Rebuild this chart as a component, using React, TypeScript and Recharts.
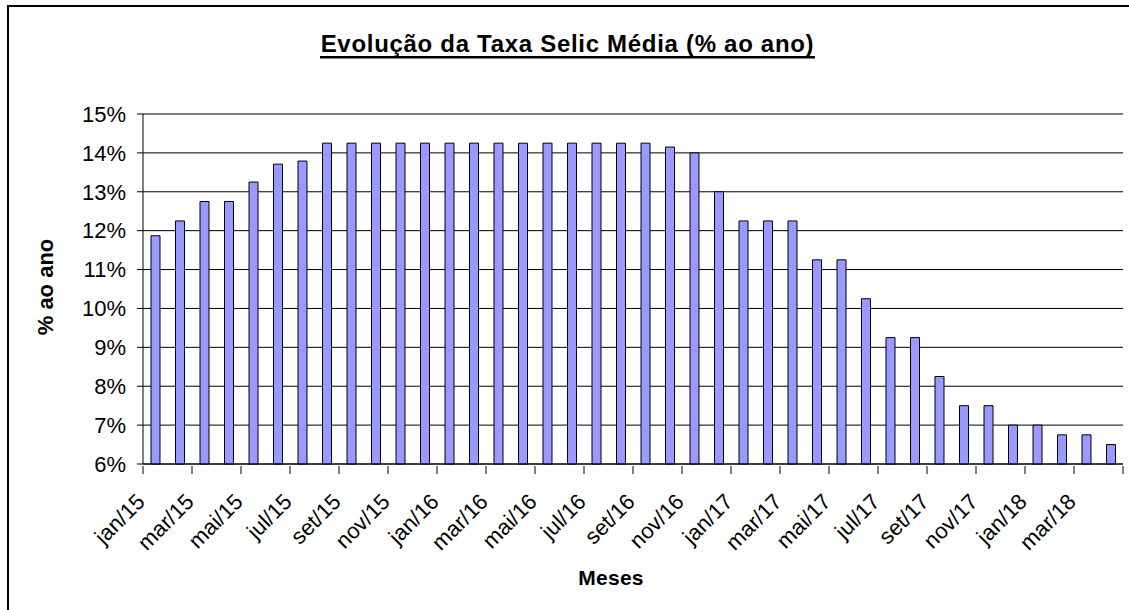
import { BarChart, Bar, XAxis, YAxis, CartesianGrid, ReferenceLine } from "recharts";

const months = [
  "jan/15", "fev/15", "mar/15", "abr/15", "mai/15", "jun/15", "jul/15", "ago/15", "set/15", "out/15", "nov/15", "dez/15",
  "jan/16", "fev/16", "mar/16", "abr/16", "mai/16", "jun/16", "jul/16", "ago/16", "set/16", "out/16", "nov/16", "dez/16",
  "jan/17", "fev/17", "mar/17", "abr/17", "mai/17", "jun/17", "jul/17", "ago/17", "set/17", "out/17", "nov/17", "dez/17",
  "jan/18", "fev/18", "mar/18", "abr/18",
];

const selic = [
  11.87, 12.25, 12.75, 12.75, 13.25, 13.71, 13.79, 14.25, 14.25, 14.25, 14.25, 14.25,
  14.25, 14.25, 14.25, 14.25, 14.25, 14.25, 14.25, 14.25, 14.25, 14.15, 14.0, 13.0,
  12.25, 12.25, 12.25, 11.25, 11.25, 10.25, 9.25, 9.25, 8.25, 7.5, 7.5, 7.0,
  7.0, 6.75, 6.75, 6.5,
];

const yTicks = [6, 7, 8, 9, 10, 11, 12, 13, 14, 15];

const data = months.map((m, i) => ({ month: m, selic: selic[i] }));

const W = 1129;
const H = 610;
const FONT = "'Liberation Sans', Arial, sans-serif";
const PLOT_LEFT = 143;
const PLOT_RIGHT = 6;
const BAND = (W - PLOT_LEFT - PLOT_RIGHT) / months.length;

const MonthTick = (props: any) => {
  const { x, y, payload } = props;
  const idx = payload.index ?? props.index;
  const left = x - BAND / 2;
  return (
    <g>
      <line x1={left} y1={y} x2={left} y2={y + 8} stroke="#000" />
      {idx === months.length - 2 && (
        <line x1={x + BAND * 1.5} y1={y} x2={x + BAND * 1.5} y2={y + 8} stroke="#000" />
      )}
      <text
        x={x - 9}
        y={y + 37}
        transform={`rotate(-45, ${x - 9}, ${y + 37})`}
        textAnchor="end"
        fontFamily={FONT}
        fontSize={22}
        fill="#000"
      >
        {payload.value}
      </text>
    </g>
  );
};

const App = () => {
  return (
    <div style={{ position: "absolute", left: 0, top: 0, width: W, height: H, overflow: "hidden", background: "#fff" }}>
      <BarChart width={W} height={H} data={data} margin={{ top: 114, right: PLOT_RIGHT, bottom: 66, left: 0 }}>
        <CartesianGrid vertical={false} stroke="#000" strokeWidth={1} />
        <XAxis
          dataKey="month"
          interval={1}
          height={80}
          tickSize={0}
          tickLine={false}
          axisLine={{ stroke: "#000" }}
          tick={<MonthTick />}
        />
        <YAxis
          domain={[6, 15]}
          ticks={yTicks}
          width={PLOT_LEFT}
          tickSize={6}
          tickMargin={11}
          axisLine={{ stroke: "#000" }}
          tickLine={{ stroke: "#000" }}
          tickFormatter={(v) => `${v}%`}
          tick={{ fontFamily: FONT, fontSize: 22, fill: "#000" }}
        />
        <YAxis
          yAxisId="r"
          orientation="right"
          domain={[6, 15]}
          width={0}
          tick={false}
          tickLine={false}
          axisLine={{ stroke: "#808080", strokeWidth: 2 }}
        />
        <ReferenceLine y={15} stroke="#808080" strokeWidth={2} />
        <Bar dataKey="selic" fill="#9999FF" stroke="#000" strokeWidth={1} barSize={9} isAnimationActive={false} />
      </BarChart>
      <svg width={W} height={H} style={{ position: "absolute", left: 0, top: 0, pointerEvents: "none" }}>
        <rect x={8} y={6} width={1300} height={800} fill="none" stroke="#000" strokeWidth={2} />
        <text x={567.5} y={52} textAnchor="middle" fontFamily={FONT} fontWeight="bold" fontSize={24} letterSpacing={0.7} fill="#000">
          Evolução da Taxa Selic Média (% ao ano)
        </text>
        <line x1={320} y1={57.3} x2={815} y2={57.3} stroke="#000" strokeWidth={2.5} />
        <text
          x={52.5}
          y={287}
          transform="rotate(-90, 52.5, 287)"
          textAnchor="middle"
          fontFamily={FONT}
          fontWeight="bold"
          fontSize={22}
          fill="#000"
        >
          % ao ano
        </text>
        <text x={611} y={585} textAnchor="middle" fontFamily={FONT} fontWeight="bold" fontSize={21} letterSpacing={0.3} fill="#000">
          Meses
        </text>
      </svg>
    </div>
  );
};

export default App;
